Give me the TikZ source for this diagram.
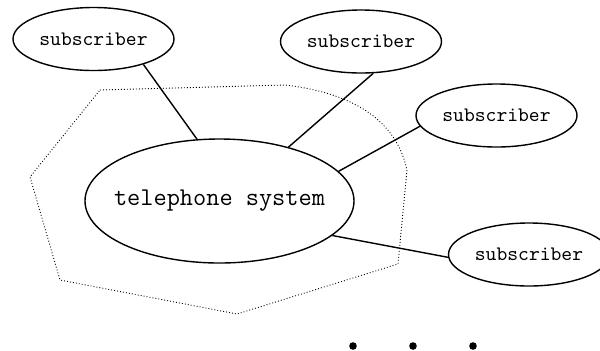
\documentclass[tikz,border=0pt]{standalone}
\usetikzlibrary{shapes.geometric}
\begin{document}
\begin{tikzpicture}[x=0.5pt,y=-0.5pt,
	sub/.style={ellipse,draw,line width=0.7pt,inner sep=0pt,minimum width=80.5pt,minimum height=31.5pt,font=\fontsize{10.3}{12}\selectfont\ttfamily},
	sys/.style={ellipse,draw,line width=0.7pt,inner xsep=-8pt,inner ysep=0pt,minimum width=134.5pt,minimum height=62pt,font=\fontsize{12.8}{15}\selectfont\ttfamily},
	link/.style={line width=0.7pt},
	zone/.style={line width=0.45pt,dash pattern=on 0.45pt off 1.05pt},
	pt/.style={circle,fill,inner sep=0pt,minimum size=3.8pt}]
	\useasboundingbox (0,0) rectangle (600,350);
	% the exchange boundary
	\draw[zone] (100,90) -- (285,85) .. controls (345,92) and (395,115) .. (407,170)
		-- (398,264) -- (237,314) -- (60,280) -- (30,177) -- cycle;
	\node[sys] (tel) at (219.5,201) {telephone system};
	\node[sub] (s1) at (93.5,39) {subscriber};
	\node[sub] (s2) at (361,41.5) {subscriber};
	\node[sub] (s3) at (496.5,115.5) {subscriber};
	\node[sub] (s4) at (529,254.5) {subscriber};
	\draw[link] (s1.-27) -- (tel.110.6);
	\draw[link] (s2.-69) -- (tel.38.5);
	\draw[link] (s3.188) -- (tel.14);
	\draw[link] (s4.182.5) -- (tel.-17);
	% more subscribers
	\foreach \i/\x in {1/353,2/413,3/473}
		\node[pt] (dot\i) at (\x,346) {};
\end{tikzpicture}
\end{document}
